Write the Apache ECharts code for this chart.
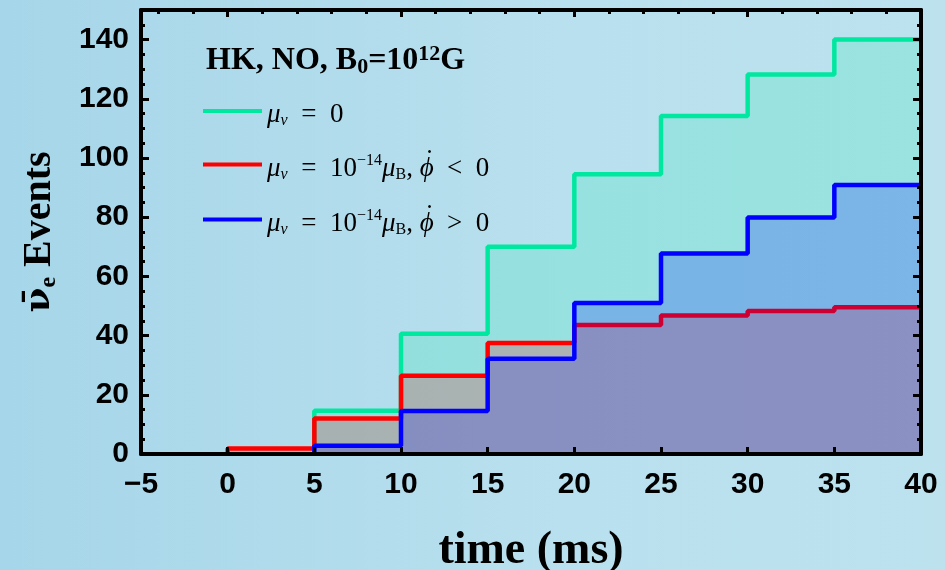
<!DOCTYPE html>
<html><head><meta charset="utf-8">
<script src="https://cdn.jsdelivr.net/npm/echarts@6/dist/echarts.min.js"></script>
<style>html,body{margin:0;padding:0;}#c{width:945px;height:570px;}</style>
</head><body><div id="c"></div>
<script>
// bin start times (ms); last bin ends at binEnd
const binStarts = [0, 5, 10, 15, 20, 25, 30, 35];
const binEnd = 40;
// cumulative anti-nu_e events per bin
const eventsMu0 = [0, 14.6, 40.6, 70, 94.5, 114.2, 128.2, 140];
const eventsNeg = [1.9, 12, 26.4, 37.5, 43.6, 46.8, 48.3, 49.6];
const eventsPos = [0, 2.8, 14.5, 32.2, 51, 67.7, 79.9, 90.9];
const xTicks = [-5, 0, 5, 10, 15, 20, 25, 30, 35, 40];
const yTicks = [0, 20, 40, 60, 80, 100, 120, 140];
const seriesNames = ['mu0', 'neg', 'pos'];
const seriesColors = ['#00e8a0', '#ff0000', '#0000ff'];

function stepData(vals) {
  let i = 0;
  while (i < vals.length && vals[i] === 0) i++;
  const pts = [[binStarts[i], 0]];
  for (let j = i; j < vals.length; j++) pts.push([binStarts[j], vals[j]]);
  pts.push([binEnd, vals[vals.length - 1]]);
  return pts;
}

const SP = '\u2002';
const legendText = {
  mu0: '{i|μ}{sub|ν}{n|' + SP + '=' + SP + '0}',
  neg: '{i|μ}{sub|ν}{n|' + SP + '=' + SP + '10}{sup|−14}{i|μ}{rsub|B}{n|, }{dot|\u2009˙}{i|ϕ}{n|' + SP + '<' + SP + '0}',
  pos: '{i|μ}{sub|ν}{n|' + SP + '=' + SP + '10}{sup|−14}{i|μ}{rsub|B}{n|, }{dot|\u2009˙}{i|ϕ}{n|' + SP + '>' + SP + '0}'
};

const chart = echarts.init(document.getElementById('c'), null, {renderer: 'canvas'});
const axisBlack = {color: '#000', width: 4};
const tickFont = {color: '#000', fontFamily: 'Liberation Sans', fontWeight: 'bold', fontSize: 30};
const serif = 'Liberation Serif';

const minorX = [];
for (let v = -4; v < 40; v += 2) if (v % 10 !== 0) minorX.push(v);

const legendRich = {
  n: {fontFamily: serif, fontSize: 27, color: '#000', lineHeight: 34, padding: [8, 0, 0, 0]},
  i: {fontFamily: serif, fontStyle: 'italic', fontSize: 27, color: '#000', lineHeight: 34, padding: [8, 0, 0, 0]},
  dot: {fontFamily: serif, fontSize: 27, color: '#000', width: 0, align: 'left', lineHeight: 18, padding: [8, 0, 16, 0]},
  sub: {fontFamily: serif, fontStyle: 'italic', fontSize: 16, color: '#000', lineHeight: 22, padding: [20, 0, 0, 0]},
  rsub: {fontFamily: serif, fontSize: 16, color: '#000', lineHeight: 22, padding: [20, 0, 0, 0]},
  sup: {fontFamily: serif, fontSize: 16, color: '#000', lineHeight: 18, padding: [8, 0, 16, 0]}
};
const legendTops = [93, 139, 194];
const legends = seriesNames.map((nm, k) => ({
  orient: 'vertical', left: 203, top: legendTops[k], padding: 0,
  itemWidth: 59, itemHeight: 4, icon: 'rect',
  data: [nm],
  formatter: name => legendText[name],
  textStyle: {rich: legendRich}
}));

const option = {
  animation: false,
  backgroundColor: {
    type: 'linear', x: 0, y: 0, x2: 1, y2: 0,
    colorStops: [{offset: 0, color: '#a6d6e9'}, {offset: 0.6, color: '#b9e0ee'}, {offset: 1, color: '#bde2ee'}]
  },
  title: {
    left: 201, top: 38,
    text: '{b|HK, NO, B}{bsub|0}{b|=10}{bsup|12}{b|G}',
    textStyle: {
      rich: {
        b: {fontFamily: serif, fontWeight: 'bold', fontSize: 32, color: '#000'},
        bsub: {fontFamily: serif, fontWeight: 'bold', fontSize: 22, color: '#000', padding: [12, 0, 0, 0]},
        bsup: {fontFamily: serif, fontWeight: 'bold', fontSize: 22, color: '#000', padding: [0, 0, 14, 0]}
      }
    }
  },
  legend: legends,
  grid: {left: 141, right: 24, top: 10, bottom: 116, containLabel: false, outerBoundsMode: 'none'},
  xAxis: [
    {
      type: 'value', position: 'bottom', min: -5, max: 40, interval: 5, z: 5,
      axisLine: {show: true, onZero: false, lineStyle: axisBlack},
      axisTick: {show: true, inside: true, length: 7, lineStyle: {color: '#000', width: 3}},
      axisLabel: Object.assign({margin: 16, formatter: v => xTicks.includes(v) ? String(v).replace('-', '−') : ''}, tickFont),
      splitLine: {show: false},
      name: 'time (ms)', nameLocation: 'middle', nameGap: 74,
      nameTextStyle: {fontFamily: serif, fontWeight: 'bold', fontSize: 46, color: '#000'}
    },
    {
      type: 'value', position: 'top', min: -5, max: 40, z: 5,
      axisLine: {show: true, onZero: false, lineStyle: axisBlack},
      axisTick: {show: true, inside: true, length: 7, lineStyle: {color: '#000', width: 3}, customValues: [0, 10, 20, 30, 40]},
      axisLabel: {show: false}, splitLine: {show: false}
    },
    {
      type: 'value', position: 'top', min: -5, max: 40, z: 5,
      axisLine: {show: false, onZero: false},
      axisTick: {show: true, inside: true, length: 4, lineStyle: {color: '#000', width: 3}, customValues: minorX},
      axisLabel: {show: false}, splitLine: {show: false}
    }
  ],
  yAxis: [
    {
      type: 'value', position: 'left', min: 0, max: 150, interval: 20, z: 5,
      axisLine: {show: true, onZero: false, lineStyle: axisBlack},
      axisTick: {show: true, inside: true, length: 8, lineStyle: {color: '#000', width: 3}},
      axisLabel: Object.assign({margin: 12, formatter: v => yTicks.includes(v) ? String(v) : ''}, tickFont),
      splitLine: {show: false},
      name: '{nu|ν̄}{e|e}{ev| Events}', nameLocation: 'middle', nameRotate: 90, nameGap: 80,
      nameTextStyle: {
        rich: {
          nu: {fontFamily: 'DejaVu Serif', fontWeight: 'bold', fontSize: 36, color: '#000'},
          e: {fontFamily: serif, fontWeight: 'bold', fontSize: 24, color: '#000', padding: [18, 0, 0, 0]},
          ev: {fontFamily: serif, fontWeight: 'bold', fontSize: 40, color: '#000'}
        }
      }
    },
    {
      type: 'value', position: 'left', min: 0, max: 150, interval: 5, z: 5,
      axisLine: {show: false, onZero: false},
      axisTick: {show: true, inside: true, length: 4, lineStyle: {color: '#000', width: 3}},
      axisLabel: {show: false}, splitLine: {show: false}
    },
    {
      type: 'value', position: 'right', min: 0, max: 150, interval: 20, z: 5,
      axisLine: {show: true, onZero: false, lineStyle: axisBlack},
      axisTick: {show: true, inside: true, length: 8, lineStyle: {color: '#000', width: 3}},
      axisLabel: {show: false}, splitLine: {show: false}
    },
    {
      type: 'value', position: 'right', min: 0, max: 150, interval: 5, z: 5,
      axisLine: {show: false, onZero: false},
      axisTick: {show: true, inside: true, length: 4, lineStyle: {color: '#000', width: 3}},
      axisLabel: {show: false}, splitLine: {show: false}
    }
  ],
  series: [eventsMu0, eventsNeg, eventsPos].map((vals, k) => ({
    name: seriesNames[k], type: 'line', step: 'end', xAxisIndex: 0, yAxisIndex: 0,
    data: stepData(vals), symbol: 'none', showSymbol: false,
    color: seriesColors[k],
    lineStyle: {color: seriesColors[k], width: 4.5},
    areaStyle: {color: seriesColors[k], opacity: k === 0 ? 0.18 : 0.2},
    z: 2 + k
  }))
};
chart.setOption(option);
</script></body></html>
